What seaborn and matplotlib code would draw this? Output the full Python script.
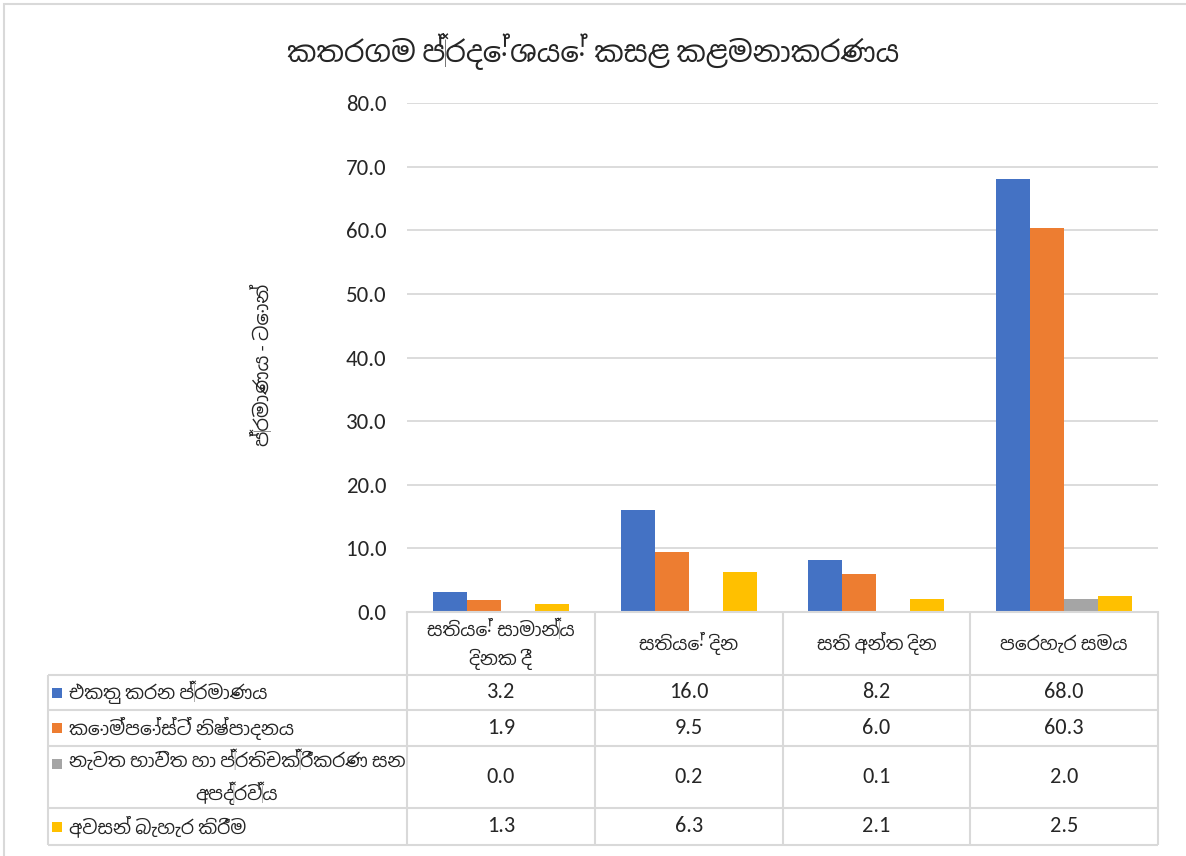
import matplotlib
matplotlib.use("Agg")
import matplotlib.pyplot as plt
from matplotlib.patches import Rectangle
import seaborn as sns
import numpy as np
import pandas as pd

# Data (tons)
categories = ["සතියේ සාමාන්‍ය\nදිනක දී", "සතියේ දින", "සති අන්ත දින", "පෙරහැර සමය"]
series = ["එකතු කරන ප්‍රමාණය", "කොම්පෝස්ට් නිෂ්පාදනය",
          "නැවත භාවිත හා ප්‍රතිචක්‍රීකරණ සන\nඅපද්‍රව්‍ය", "අවසන් බැහැර කිරීම"]
collected = [3.2, 16.0, 8.2, 68.0]
compost = [1.9, 9.5, 6.0, 60.3]
recycled = [0.0, 0.2, 0.1, 2.0]
disposal = [1.3, 6.3, 2.1, 2.5]
colors = ["#4472C4", "#ED7D31", "#A5A5A5", "#FFC000"]
yticks = [0, 10, 20, 30, 40, 50, 60, 70, 80]

title = "කතරගම ප්‍රදේශයේ කසළ කළමනාකරණය"
ylabel = "ප්‍රමාණය - ටොන්"

values = [collected, compost, recycled, disposal]
df = pd.DataFrame({
    "cat": [c for _ in series for c in categories],
    "series": [s for s in series for _ in categories],
    "value": [v for vals in values for v in vals],
})

sns.set_theme(style="white")
plt.rcParams["font.family"] = ["Carlito", "Noto Sans Sinhala", "DejaVu Sans"]
grid_col = "#D9D9D9"

W, H = 1186, 856
fig = plt.figure(figsize=(W / 100, H / 100), dpi=100)

# chart area border (only top/left visible in the screenshot)
fig.patches.append(Rectangle((4 / W, -0.1), 1.2, 1 - 4 / H + 0.1, transform=fig.transFigure,
                             fill=False, edgecolor=grid_col, lw=1.5))

# plot area
ax_l, ax_r, ax_t, ax_b = 407, 1158, 103, 612
ax = fig.add_axes([ax_l / W, 1 - ax_b / H, (ax_r - ax_l) / W, (ax_b - ax_t) / H])
sns.barplot(data=df, x="cat", y="value", hue="series", hue_order=series, order=categories,
            palette=colors, width=0.725, saturation=1, linewidth=0, legend=False, ax=ax)
ax.set_xlim(-0.5, len(categories) - 0.5)
ax.set_ylim(0, 80)
ax.set_yticks(yticks)
ax.set_yticklabels([f"{t:.1f}" for t in yticks], fontsize=16.5)
ax.tick_params(axis="y", length=0, pad=15)
ax.set_xticks([])
ax.set_xlabel("")
ax.set_ylabel(ylabel, fontsize=14)
ax.yaxis.set_label_coords(-0.18, 0.485)
ax.grid(axis="y", color=grid_col, lw=1.3)
ax.set_axisbelow(True)
for s in ["left", "right", "top"]:
    ax.spines[s].set_visible(False)
ax.spines["bottom"].set_color(grid_col)
ax.spines["bottom"].set_linewidth(1.5)

fig.text(0.5, 1 - 52 / H, title, ha="center", va="center", fontsize=21)

# data table below the plot
cat_w = (ax_r - ax_l) / len(categories)
lab_w = (ax_l - 48) / cat_w
row_h = [63, 35, 36, 62, 37]
edges = np.concatenate([[0], np.cumsum(row_h)])
x0 = -0.5 - lab_w
x1 = len(categories) - 0.5
tax = fig.add_axes([48 / W, 1 - 845 / H, (ax_r - 48) / W, edges[-1] / H])
tax.set_xlim(x0, x1)
tax.set_ylim(edges[-1], 0)
tax.axis("off")

tax.hlines(edges[1:], x0, x1, color=grid_col, lw=1.5, clip_on=False)
tax.vlines(np.arange(len(categories) + 1) - 0.5, 0, edges[-1], color=grid_col, lw=1.5, clip_on=False)
tax.vlines([x0], edges[1], edges[-1], color=grid_col, lw=1.5, clip_on=False)

for i, c in enumerate(categories):
    tax.text(i, (edges[0] + edges[1]) / 2, c, ha="center", va="center", fontsize=13.5,
             linespacing=1.6)

for r, (name, vals, col) in enumerate(zip(series, values, colors)):
    yc = (edges[r + 1] + edges[r + 2]) / 2
    nl = name.count("\n")
    tax.scatter([x0 + 0.05], [yc - 13.5 * nl], marker="s", s=62, color=col, linewidths=0,
                clip_on=False)
    tax.text(x0 + 0.11, yc, name, ha="left", va="center", fontsize=13.5,
             multialignment="center", linespacing=1.6)
    for i, v in enumerate(vals):
        tax.text(i, yc, f"{v:.1f}", ha="center", va="center", fontsize=16)

plt.savefig("out.png", dpi=100)
